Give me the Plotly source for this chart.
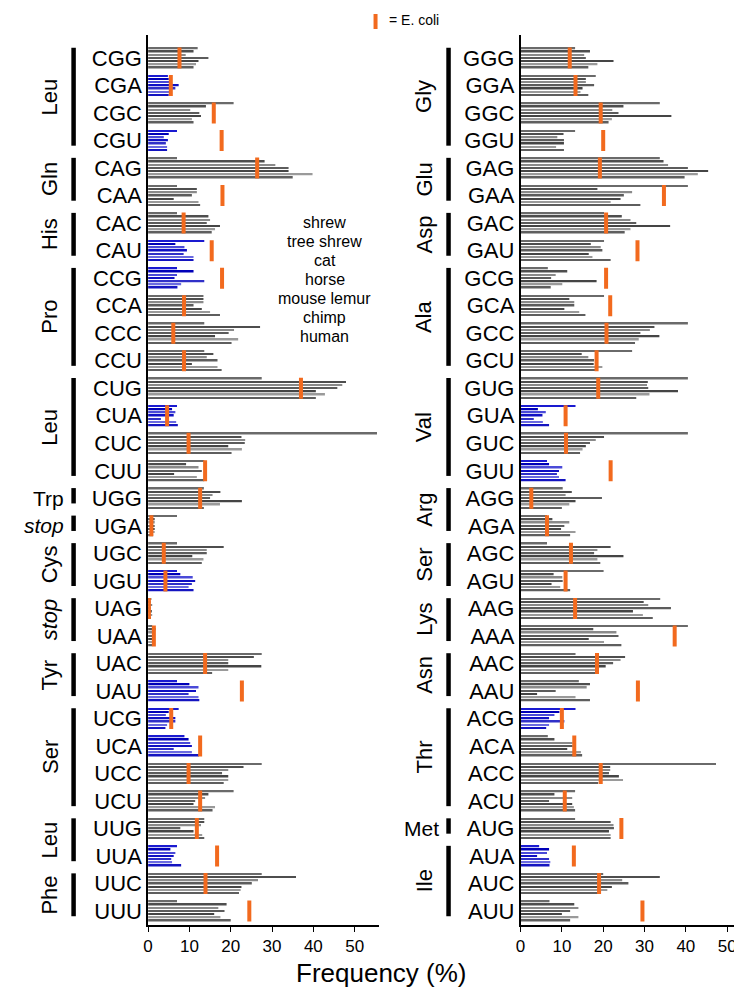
import plotly.graph_objects as go

species = ["shrew", "tree shrew", "cat", "horse", "mouse lemur", "chimp", "human"]

left_codons = ["CGG", "CGA", "CGC", "CGU", "CAG", "CAA", "CAC", "CAU",
               "CCG", "CCA", "CCC", "CCU", "CUG", "CUA", "CUC", "CUU",
               "UGG", "UGA", "UGC", "UGU", "UAG", "UAA", "UAC", "UAU",
               "UCG", "UCA", "UCC", "UCU", "UUG", "UUA", "UUC", "UUU"]
left_values = [
    [12, 11, 9.1, 14.6, 12.2, 11.6, 11],
    [4.8, 5, 5.6, 7.4, 6.6, 5.6, 5.0],
    [20.7, 14, 10.2, 12.4, 12.8, 10.6, 11],
    [7, 5, 3.8, 4.8, 4.3, 4.6, 4.6],
    [7, 28.2, 30.8, 34, 34, 39.8, 35],
    [7, 11.8, 11.8, 10.6, 6.2, 12.2, 12.6],
    [7, 14.6, 15, 14.2, 17.4, 16.2, 15.4],
    [13.6, 6.6, 8.8, 9.4, 8.6, 11, 11],
    [7, 11, 7, 6.4, 13.6, 8, 7.1],
    [13.4, 13.4, 13.4, 11, 13, 15, 17.4],
    [13.6, 27.1, 20.8, 19.5, 16.2, 21.8, 20.2],
    [13.6, 15.8, 14.2, 16.8, 10.6, 16.8, 17.8],
    [27.5, 47.9, 47, 45.8, 40.6, 42.8, 40.6],
    [7, 5.8, 6.6, 6.2, 3.1, 6.8, 7.2],
    [55.4, 22.6, 23.5, 23.4, 19.4, 22.7, 20.2],
    [13.6, 9.2, 12.2, 13, 6.3, 11.8, 13.6],
    [13.5, 17.5, 15.6, 15, 22.7, 17.4, 13.5],
    [7, 1.6, 1.6, 1.6, 1.6, 1.6, 1.2],
    [7, 18.3, 14.2, 14.2, 10.7, 13.4, 13],
    [7, 7.8, 10.8, 11.4, 10.6, 9.8, 11],
    [0.8, 0.6, 1.0, 0.6, 0.9, 1.0, 0.7],
    [1.0, 1.8, 1.0, 1.5, 1.0, 1.2, 1.0],
    [27.5, 25.6, 19.4, 19.4, 27.4, 19.4, 15.5],
    [7, 10, 12.2, 11.6, 9.8, 12.2, 12.4],
    [7.4, 5, 4.3, 6.6, 6.6, 4.6, 4.2],
    [8.8, 9.8, 10.2, 10.6, 6.2, 10.6, 12.3],
    [27.5, 23.1, 19.4, 17.9, 19.4, 19.4, 18.3],
    [20.7, 14.6, 13.8, 11.4, 11, 16.2, 15.6],
    [13.6, 13.6, 12.8, 7.8, 11, 13.1, 13.6],
    [7, 5.4, 6.6, 6.2, 5.6, 5.8, 8],
    [27.5, 35.8, 26.6, 25.1, 22.6, 22.4, 22],
    [7, 19, 17, 18.5, 16, 17.5, 20],
]
left_ecoli = [7.6, 5.5, 15.9, 17.8, 26.4, 18, 8.6, 15.4,
              17.9, 8.7, 6.1, 8.7, 37, 4.6, 9.8, 13.8,
              12.6, 0.8, 3.8, 4.2, 0.2, 1.4, 13.8, 22.7,
              5.6, 12.6, 9.8, 12.6, 11.8, 16.7, 13.9, 24.5]
left_blue = ["CGA", "CGU", "CAU", "CCG", "CUA", "UGU", "UAU", "UCG", "UCA", "UUA"]

right_codons = ["GGG", "GGA", "GGC", "GGU", "GAG", "GAA", "GAC", "GAU",
                "GCG", "GCA", "GCC", "GCU", "GUG", "GUA", "GUC", "GUU",
                "AGG", "AGA", "AGC", "AGU", "AAG", "AAA", "AAC", "AAU",
                "ACG", "ACA", "ACC", "ACU", "AUG", "AUA", "AUC", "AUU"]
right_values = [
    [13.2, 16.8, 15.4, 15.8, 22.5, 18.6, 16.4],
    [18.2, 15.8, 15.8, 17.8, 15, 14.5, 16.4],
    [33.7, 24.9, 22.2, 23.7, 36.5, 22.1, 21.3],
    [13.2, 10.4, 8.9, 10.5, 10.5, 8.6, 10.5],
    [33.7, 34.6, 35.7, 40.5, 45.4, 42.9, 39.7],
    [40.5, 18.6, 27, 25, 24.2, 21.8, 29],
    [20.2, 24.5, 26.6, 28, 36.2, 26.6, 25.2],
    [20.2, 17, 19.4, 19.8, 16.5, 17.4, 21.8],
    [6.6, 11.3, 8.5, 7.4, 18.4, 10.1, 7.3],
    [20.2, 11.8, 13, 13, 10.6, 14.2, 15.7],
    [40.5, 32.4, 31.3, 29, 33.6, 28.6, 27.7],
    [27, 14.8, 16.4, 17.8, 17.7, 19.8, 18.4],
    [40.5, 30.8, 30.6, 30.9, 38.1, 31.2, 28],
    [13.3, 4.2, 6.1, 5.3, 3.2, 5.4, 6.9],
    [40.5, 20.2, 18.2, 16.8, 15.8, 15, 14.4],
    [6.4, 6.9, 10.1, 9.3, 8.8, 9.3, 10.9],
    [10.2, 12.4, 10.9, 19.7, 13.3, 11.8, 10],
    [6.4, 7.7, 11.8, 10.6, 9.8, 13.3, 12],
    [6.4, 21.8, 18.6, 17.8, 24.9, 18.6, 19.3],
    [20.1, 8, 10.1, 10.2, 7.5, 9.6, 12],
    [33.8, 29.8, 30.9, 36.4, 27.2, 29.6, 32],
    [40.5, 17.6, 23.2, 23.7, 16.5, 20.2, 24.4],
    [13.3, 25.3, 24.2, 22.4, 20.6, 18.2, 18.1],
    [14.1, 16.8, 16, 8.5, 4, 13.3, 16.8],
    [13.3, 9.4, 8.2, 6.9, 10.6, 6.9, 6.2],
    [6.6, 8.2, 12.6, 12.6, 11.3, 14.6, 14.9],
    [47.3, 21.7, 21.7, 21.4, 23.8, 24.8, 18.8],
    [13.2, 8.2, 12.5, 6.9, 12.5, 12.9, 13.2],
    [13.2, 21.8, 22.5, 22.6, 21.4, 21.8, 21.8],
    [4.5, 6.9, 6.4, 4, 6.9, 7.2, 7],
    [20, 33.7, 24.6, 26.1, 22.1, 21, 19],
    [7, 13, 14, 12, 10, 14, 12],
]
right_ecoli = [11.9, 13.3, 19.4, 20, 19.2, 34.7, 20.7, 28.3,
               20.7, 21.7, 20.8, 18.4, 18.8, 10.9, 11.0, 21.8,
               2.6, 6.4, 12.2, 10.9, 13.2, 37.3, 18.5, 28.4,
               10, 13, 19.4, 10.7, 24.4, 12.9, 19, 29.5]
right_blue = ["GUA", "GUU", "ACG", "AUA"]

left_groups = [("Leu", 0, 3, True, False), ("Gln", 4, 5, True, False),
               ("His", 6, 7, True, False), ("Pro", 8, 11, True, False),
               ("Leu", 12, 15, True, False), ("Trp", 16, 16, False, False),
               ("stop", 17, 17, False, True), ("Cys", 18, 19, True, False),
               ("stop", 20, 21, True, True), ("Tyr", 22, 23, True, False),
               ("Ser", 24, 27, True, False), ("Leu", 28, 29, True, False),
               ("Phe", 30, 31, True, False)]
right_groups = [("Gly", 0, 3, True, False), ("Glu", 4, 5, True, False),
                ("Asp", 6, 7, True, False), ("Ala", 8, 11, True, False),
                ("Val", 12, 15, True, False), ("Arg", 16, 17, True, False),
                ("Ser", 18, 19, True, False), ("Lys", 20, 21, True, False),
                ("Asn", 22, 23, True, False), ("Thr", 24, 27, True, False),
                ("Met", 28, 28, False, False), ("Ile", 29, 31, True, False)]

x_ticks = [0, 10, 20, 30, 40, 50]

# ---------------- styling / geometry ----------------
W, H = 742, 995
FONT = "Liberation Sans, Arial, sans-serif"
GRAYS = ["#6a6a6a", "#4e4e4e", "#8a8a8a", "#5c5c5c", "#454545", "#9a9a9a", "#5e5e5e"]
BLUES = ["#1a1ad0", "#0000b8", "#4a4ad8", "#1010c4", "#3030c8", "#6a6ae0", "#1414c0"]
ORANGE = "#f26a1e"
ROW = 8.6           # units per codon row (7 bars + gap)
Y_TOP_PX, Y_BOT_PX = 27, 917
PX_PER_UNIT = 3.2
FIRST_BAR_PX = 40.4
y_lo = (Y_TOP_PX - FIRST_BAR_PX) / PX_PER_UNIT
y_hi = (Y_BOT_PX - FIRST_BAR_PX) / PX_PER_UNIT
ydom = [1 - Y_BOT_PX / H, 1 - Y_TOP_PX / H]

PX_PER_PCT = 4.16
L0, R0 = 136, 511
L_MAX, R_MAX = 56, 55
xdom_l = [L0 / W, (L0 + L_MAX * PX_PER_PCT) / W]
xdom_r = [R0 / W, (R0 + R_MAX * PX_PER_PCT) / W]

fig = go.Figure()


def add_panel(codons, values, ecoli, blue, xa, ya):
    for j, sp in enumerate(species):
        fig.add_trace(go.Bar(
            orientation="h",
            y=[i * ROW + j for i in range(len(codons))],
            x=[values[i][j] for i in range(len(codons))],
            width=0.5,
            marker=dict(color=[BLUES[j] if c in blue else GRAYS[j] for c in codons],
                        line=dict(width=0)),
            name=sp, showlegend=False, xaxis=xa, yaxis=ya,
        ))
    fig.add_trace(go.Scatter(
        x=ecoli, y=[i * ROW + 3 for i in range(len(codons))],
        mode="markers",
        marker=dict(symbol="line-ns", size=15, color=ORANGE,
                    line=dict(width=4, color=ORANGE)),
        showlegend=False, xaxis=xa, yaxis=ya, name="E. coli",
    ))


add_panel(left_codons, left_values, left_ecoli, left_blue, "x", "y")
add_panel(right_codons, right_values, right_ecoli, right_blue, "x2", "y2")

axis_x = dict(tickvals=x_ticks, ticks="outside", ticklen=5, tickwidth=1.2,
              tickcolor="black", showline=True, linecolor="black", linewidth=1.5,
              showgrid=False, zeroline=False,
              tickfont=dict(family=FONT, size=17, color="black"))
axis_y = dict(range=[y_hi, y_lo], showline=True, linecolor="black", linewidth=1.5,
              showgrid=False, zeroline=False, ticks="",
              tickfont=dict(family=FONT, size=22, color="black"), domain=ydom)

fig.update_layout(
    width=W, height=H, margin=dict(l=0, r=0, t=0, b=0),
    plot_bgcolor="white", paper_bgcolor="white", barmode="overlay",
    xaxis=dict(axis_x, domain=xdom_l, range=[0, L_MAX], anchor="y"),
    yaxis=dict(axis_y, anchor="x",
               tickvals=[i * ROW + 3 for i in range(32)], ticktext=left_codons),
    xaxis2=dict(axis_x, domain=xdom_r, range=[0, R_MAX], anchor="y2"),
    yaxis2=dict(axis_y, anchor="x2",
                tickvals=[i * ROW + 3 for i in range(32)], ticktext=right_codons),
)

shapes = []
annotations = []


def add_groups(groups, line_px, label_px, yref):
    for name, i0, i1, rot, ital in groups:
        y0 = i0 * ROW - 0.2
        y1 = i1 * ROW + 4.6
        shapes.append(dict(type="line", xref="paper", yref=yref,
                           x0=line_px / W, x1=line_px / W, y0=y0, y1=y1,
                           line=dict(color="black", width=4.5)))
        txt = f"<i>{name}</i>" if ital else name
        if rot:
            annotations.append(dict(xref="paper", yref=yref, x=label_px / W,
                                    y=(y0 + y1) / 2, text=txt, textangle=-90,
                                    showarrow=False, xanchor="center", yanchor="middle",
                                    font=dict(family=FONT, size=22, color="black")))
        else:
            annotations.append(dict(xref="paper", yref=yref, x=(line_px - 8) / W,
                                    y=i0 * ROW + 3, text=txt,
                                    showarrow=False, xanchor="right", yanchor="middle",
                                    font=dict(family=FONT, size=21, color="black")))


add_groups(left_groups, 61, 37, "y")
add_groups(right_groups, 438.5, 414, "y2")

# species list (one line each)
for k, sp in enumerate(species):
    annotations.append(dict(xref="paper", yref="paper", x=314 / W,
                            y=1 - (215 + 18.9 * k) / H, text=sp, showarrow=False,
                            xanchor="center", yanchor="middle",
                            font=dict(family=FONT, size=16, color="black")))
# E. coli legend
shapes.append(dict(type="line", xref="paper", yref="paper",
                   x0=365 / W, x1=365 / W, y0=1 - 6 / H, y1=1 - 21 / H,
                   line=dict(color=ORANGE, width=4)))
annotations.append(dict(xref="paper", yref="paper", x=377 / W, y=1 - 12 / H,
                        text="= E. coli", showarrow=False, xanchor="left",
                        yanchor="middle", font=dict(family=FONT, size=14, color="black")))
# axis title
annotations.append(dict(xref="paper", yref="paper", x=371 / W, y=1 - 965 / H,
                        text="Frequency (%)", showarrow=False, xanchor="center",
                        yanchor="middle", font=dict(family=FONT, size=26, color="black")))

fig.update_layout(shapes=shapes, annotations=annotations)
fig.write_html("out.html")
